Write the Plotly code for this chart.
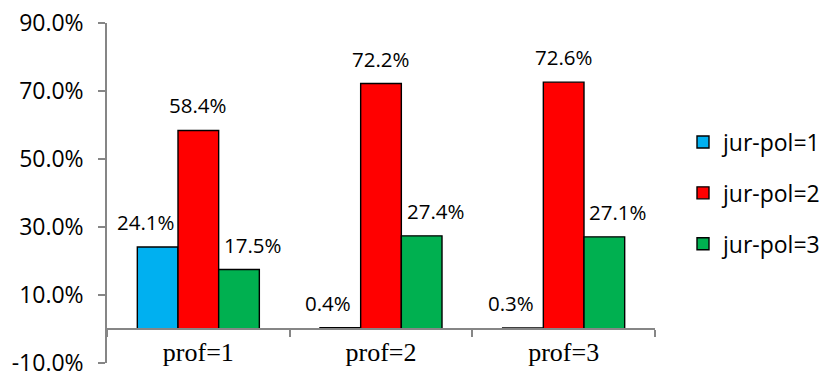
import plotly.graph_objects as go

# Share of each jur-pol group within each prof group (percent)
categories = ["prof=1", "prof=2", "prof=3"]
series_names = ["jur-pol=1", "jur-pol=2", "jur-pol=3"]
jurpol_1 = [24.1, 0.4, 0.3]
jurpol_2 = [58.4, 72.2, 72.6]
jurpol_3 = [17.5, 27.4, 27.1]
y_ticks = [-10, 10, 30, 50, 70, 90]

series_values = [jurpol_1, jurpol_2, jurpol_3]
colors = ["#00B0F0", "#FF0000", "#00B050"]

W, H = 820, 377
M_L, M_R, M_T, M_B = 107, 165, 23, 14
Y_MIN, Y_MAX = -10, 90
BARGAP = 0.332

axis_grey = "#868686"
sans = "Open Sans"

fig = go.Figure()
for name, vals, col in zip(series_names, series_values, colors):
    fig.add_trace(go.Bar(
        x=categories, y=vals, name=name,
        marker=dict(color=col, line=dict(color="#000000", width=1.4)),
        legendgroup=name,
    ))

# Value labels above each bar, nudged sideways like the spreadsheet layout
plot_w = W - M_L - M_R
cat_w = plot_w / len(categories)
bar_w = cat_w * (1 - BARGAP) / len(series_names)
label_nudge = [-12, 0, 14]
annotations = []
for si, vals in enumerate(series_values):
    offset = (si - 1) * bar_w + label_nudge[si]
    for cat, v in zip(categories, vals):
        annotations.append(dict(
            x=cat, y=v, xref="x", yref="y",
            text=f"{v:.1f}%", showarrow=False,
            xshift=offset, yshift=25, yanchor="middle",
            font=dict(family=sans, size=20.5, color="#000000"),
        ))

fig.update_layout(
    width=W, height=H,
    margin=dict(l=M_L, r=M_R, t=M_T, b=M_B, pad=0, autoexpand=False),
    paper_bgcolor="white", plot_bgcolor="white",
    barmode="group", bargap=BARGAP, bargroupgap=0,
    annotations=annotations,
    showlegend=True,
    legend=dict(
        x=(683 - M_L) / plot_w, xanchor="left",
        y=0.5, yanchor="middle",
        font=dict(family=sans, size=23, color="#000000"),
        traceorder="grouped", tracegroupgap=18,
        bgcolor="rgba(0,0,0,0)",
    ),
    xaxis=dict(
        type="category",
        anchor="free", position=(0 - Y_MIN) / (Y_MAX - Y_MIN),
        showline=True, linecolor=axis_grey, linewidth=1.5,
        ticks="outside", tickson="boundaries", ticklen=7,
        tickcolor=axis_grey, tickwidth=1.5,
        tickfont=dict(family="Liberation Serif", size=26, color="#000000"),
        showgrid=False, zeroline=False,
    ),
    yaxis=dict(
        range=[Y_MIN, Y_MAX],
        tickvals=y_ticks,
        ticktext=[f"{t:.1f}%" for t in y_ticks],
        showline=True, linecolor=axis_grey, linewidth=1.5,
        ticks="outside", ticklen=7, tickcolor=axis_grey, tickwidth=1.5,
        tickfont=dict(family=sans, size=23, color="#000000"),
        ticklabelstandoff=10, ticklabeloverflow="allow",
        showgrid=False, zeroline=False,
    ),
)

fig.write_html("out.html")
